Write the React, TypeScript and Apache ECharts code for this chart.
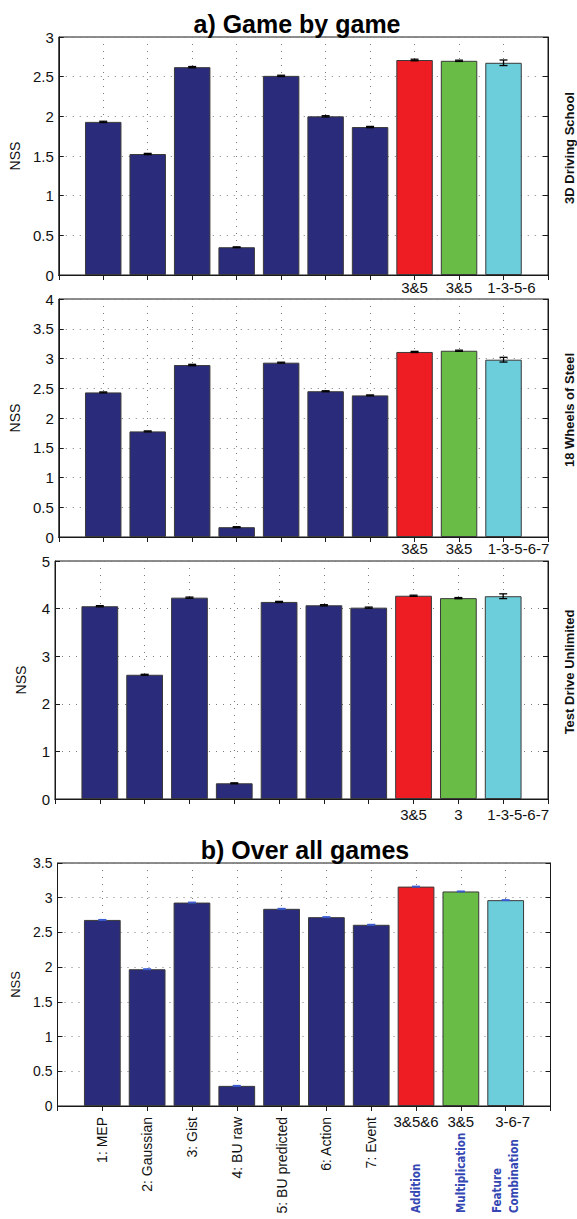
import React, { useEffect, useRef } from "react";
import * as echarts from "echarts";

// ---- data ----
const methods = [
  "1: MEP",
  "2: Gaussian",
  "3: Gist",
  "4: BU raw",
  "5: BU predicted",
  "6: Action",
  "7: Event",
  "Addition",
  "Multiplication",
  "Feature Combination",
];
const combinationKinds = ["Addition", "Multiplication", "Feature\nCombination"];
const games = ["3D Driving School", "18 Wheels of Steel", "Test Drive Unlimited"];

const nssDriving = [1.93, 1.525, 2.62, 0.35, 2.51, 2.0, 1.865, 2.71, 2.7, 2.675];
const errDriving = [0.008, 0.008, 0.008, 0.005, 0.008, 0.008, 0.008, 0.01, 0.008, 0.035];
const comboDriving = ["3&5", "3&5", "1-3-5-6"];

const nssWheels = [2.43, 1.775, 2.89, 0.165, 2.93, 2.45, 2.38, 3.11, 3.13, 2.98];
const errWheels = [0.008, 0.008, 0.012, 0.008, 0.008, 0.008, 0.008, 0.01, 0.01, 0.04];
const comboWheels = ["3&5", "3&5", "1-3-5-6-7"];

const nssTestDrive = [4.05, 2.61, 4.23, 0.33, 4.14, 4.07, 4.02, 4.27, 4.22, 4.26];
const errTestDrive = [0.012, 0.01, 0.012, 0.01, 0.012, 0.012, 0.012, 0.012, 0.012, 0.05];
const comboTestDrive = ["3&5", "3", "1-3-5-6-7"];

const nssAll = [2.68, 1.97, 2.93, 0.29, 2.84, 2.72, 2.61, 3.16, 3.09, 2.965];
const errAll = [0.005, 0.005, 0.005, 0.005, 0.005, 0.005, 0.005, 0.005, 0.005, 0.005];
const comboAll = ["3&5&6", "3&5", "3-6-7"];

const yMaxes = [3, 4, 5, 3.5];
const ySteps = [0.5, 0.5, 1, 0.5];

const barColors = [
  "#2a2b7b", "#2a2b7b", "#2a2b7b", "#2a2b7b", "#2a2b7b", "#2a2b7b", "#2a2b7b",
  "#ee1d24", "#69bc45", "#6ccddb",
];

// ---- layout ----
const PANEL_TOPS = [37, 299, 561, 863];
const PANEL_HEIGHTS = [238, 238, 238, 243];
const PANEL_LEFTS = [55, 55, 55, 57.5];
const PANEL_WIDTH = 493;
const LABEL_MARGINS = [5, 4, 8];
const LAST_LABEL_PAD = [16, 30, 30, 14];
const FONT = "'Liberation Sans', Arial, Helvetica, sans-serif";
const NARROW = "'Liberation Sans Narrow', 'Arial Narrow', 'DejaVu Sans Condensed', sans-serif";
const AXIS_COLOR = "#1a1a1a";
const GRID_DOT = { color: "#7a7a7a", type: [1, 6] as any, width: 1 };

const slots = ["", ...methods, " "];

function comboRich(pad: number) {
  return {
    n: { fontSize: 15, fontFamily: FONT, color: "#111" },
    s: { fontSize: 15, fontFamily: FONT, color: "#111", padding: [0, 0, 0, pad] },
  };
}

export default function App() {
  const ref = useRef<HTMLDivElement>(null);

  useEffect(() => {
    if (!ref.current) return;
    const chart = echarts.init(ref.current, null, { renderer: "svg" });

    const panelValues = [nssDriving, nssWheels, nssTestDrive, nssAll];
    const panelErrors = [errDriving, errWheels, errTestDrive, errAll];
    const panelCombos = [comboDriving, comboWheels, comboTestDrive];

    const comboFormatter = (combos: string[]) => (_v: string, i: number) => {
      if (i < 8 || i > 10) return "";
      return i === 10 ? `{s|${combos[i - 8]}}` : `{n|${combos[i - 8]}}`;
    };

    const grids: any[] = [];
    for (let p = 0; p < 4; p++) {
      grids.push({
        left: PANEL_LEFTS[p],
        top: PANEL_TOPS[p],
        width: PANEL_WIDTH,
        height: PANEL_HEIGHTS[p],
        show: true,
        borderColor: AXIS_COLOR,
        borderWidth: 1,
        backgroundColor: "transparent",
      });
    }
    for (let k = 0; k < 2; k++) {
      grids.push({
        left: PANEL_LEFTS[3],
        top: PANEL_TOPS[3],
        width: PANEL_WIDTH,
        height: PANEL_HEIGHTS[3],
        show: false,
      });
    }

    const xAxes: any[] = [];
    for (let p = 0; p < 4; p++) {
      const isLast = p === 3;
      xAxes.push({
        type: "category",
        gridIndex: p,
        position: "bottom",
        data: slots,
        boundaryGap: false,
        axisLine: { show: true, lineStyle: { color: AXIS_COLOR, width: 1 } },
        axisTick: { show: true, inside: true, length: 5, interval: 0, lineStyle: { color: AXIS_COLOR } },
        splitLine: { show: true, interval: 0, lineStyle: GRID_DOT },
        axisLabel: isLast
          ? {
              show: true,
              interval: 0,
              rotate: 90,
              margin: 11,
              fontSize: 14,
              fontFamily: FONT,
              color: "#111",
              formatter: (v: string, i: number) => (i >= 1 && i <= 7 ? v : ""),
            }
          : {
              show: true,
              interval: 0,
              margin: LABEL_MARGINS[p],
              fontSize: 15,
              fontFamily: FONT,
              color: "#111",
              formatter: comboFormatter(panelCombos[p]),
              rich: comboRich(LAST_LABEL_PAD[p]),
            },
      });
    }
    for (let p = 0; p < 4; p++) {
      xAxes.push({
        type: "category",
        gridIndex: p,
        position: "top",
        data: slots,
        boundaryGap: false,
        axisLine: { show: true, lineStyle: { color: AXIS_COLOR, width: 1 } },
        axisTick: { show: true, inside: true, length: 5, interval: 0, lineStyle: { color: AXIS_COLOR } },
        axisLabel: { show: false },
        splitLine: { show: false },
      });
    }
    xAxes.push({
      type: "category",
      gridIndex: 4,
      position: "bottom",
      data: slots,
      boundaryGap: false,
      axisLine: { show: false },
      axisTick: { show: false },
      splitLine: { show: false },
      axisLabel: {
        show: true,
        interval: 0,
        margin: 8,
        fontSize: 15,
        fontFamily: FONT,
        color: "#111",
        formatter: comboFormatter(comboAll),
        rich: comboRich(LAST_LABEL_PAD[3]),
      },
    });
    xAxes.push({
      type: "category",
      gridIndex: 5,
      position: "bottom",
      data: slots,
      boundaryGap: false,
      axisLine: { show: false },
      axisTick: { show: false },
      splitLine: { show: false },
      axisLabel: {
        show: true,
        interval: 0,
        rotate: 90,
        align: "left",
        verticalAlign: "middle",
        margin: 107,
        fontSize: 11.5,
        lineHeight: 17,
        fontWeight: "bold",
        fontFamily: NARROW,
        color: "#3447b3",
        formatter: (_v: string, i: number) => (i >= 8 && i <= 10 ? combinationKinds[i - 8] : ""),
      },
    });

    const yAxes: any[] = [];
    for (let p = 0; p < 4; p++) {
      yAxes.push({
        type: "value",
        gridIndex: p,
        position: "left",
        min: 0,
        max: yMaxes[p],
        interval: ySteps[p],
        name: "NSS",
        nameLocation: "middle",
        nameGap: p === 3 ? 29 : 27,
        nameTextStyle: { fontSize: p === 3 ? 13 : 14, fontFamily: FONT, color: "#111" },
        axisLine: { show: true, lineStyle: { color: AXIS_COLOR, width: 1 } },
        axisTick: { show: true, inside: true, length: 5, lineStyle: { color: AXIS_COLOR } },
        splitLine: { show: true, lineStyle: GRID_DOT },
        axisLabel: { fontSize: p === 3 ? 14 : 15, margin: 5, fontFamily: FONT, color: "#111" },
      });
    }
    for (let p = 0; p < 4; p++) {
      yAxes.push({
        type: "value",
        gridIndex: p,
        position: "right",
        min: 0,
        max: yMaxes[p],
        interval: ySteps[p],
        axisLine: { show: true, lineStyle: { color: AXIS_COLOR, width: 1 } },
        axisTick: { show: true, inside: true, length: 5, lineStyle: { color: AXIS_COLOR } },
        splitLine: { show: false },
        axisLabel: { show: false },
      });
    }
    yAxes.push({ type: "value", gridIndex: 4, show: false, min: 0, max: 1 });
    yAxes.push({ type: "value", gridIndex: 5, show: false, min: 0, max: 1 });

    const series: any[] = [];
    for (let p = 0; p < 4; p++) {
      const vals = panelValues[p];
      const errs = panelErrors[p];
      series.push({
        type: "bar",
        xAxisIndex: p,
        yAxisIndex: p,
        barWidth: "82%",
        itemStyle: { borderColor: "#3a3a3a", borderWidth: 1 },
        data: ["-", ...vals.map((v, i) => ({ value: v, itemStyle: { color: barColors[i] } })), "-"],
        z: 2,
      });
      const errColor = p === 3 ? "#3b5bd0" : "#000";
      series.push({
        type: "custom",
        xAxisIndex: p,
        yAxisIndex: p,
        z: 5,
        data: vals.map((v, i) => [i + 1, v, errs[i]]),
        renderItem: (_params: any, api: any) => {
          const x = api.value(0);
          const y = api.value(1);
          const e = api.value(2);
          const lo = api.coord([x, y - e]);
          const hi = api.coord([x, y + e]);
          const half = 4;
          const style = { stroke: errColor, lineWidth: 1.3 };
          return {
            type: "group",
            children: [
              { type: "line", shape: { x1: lo[0], y1: lo[1], x2: hi[0], y2: hi[1] }, style },
              { type: "line", shape: { x1: lo[0] - half, y1: lo[1], x2: lo[0] + half, y2: lo[1] }, style },
              { type: "line", shape: { x1: hi[0] - half, y1: hi[1], x2: hi[0] + half, y2: hi[1] }, style },
            ],
          };
        },
      });
    }

    const graphics: any[] = games.map((g, p) => ({
      type: "text",
      x: 569,
      y: PANEL_TOPS[p] + PANEL_HEIGHTS[p] / 2 - 8,
      rotation: Math.PI / 2,
      style: {
        text: g,
        align: "center",
        verticalAlign: "middle",
        fontSize: 13,
        fontWeight: "bold",
        fontFamily: FONT,
        fill: "#111",
      },
    }));

    chart.setOption({
      animation: false,
      backgroundColor: "#fff",
      title: [
        {
          text: "a) Game by game",
          left: 292,
          top: 6,
          textAlign: "center",
          textStyle: { fontSize: 25, fontWeight: "bold", fontFamily: FONT, color: "#000" },
        },
        {
          text: "b) Over all games",
          left: 300,
          top: 832,
          textAlign: "center",
          textStyle: { fontSize: 25, fontWeight: "bold", fontFamily: FONT, color: "#000" },
        },
      ],
      grid: grids,
      xAxis: xAxes,
      yAxis: yAxes,
      series,
      graphic: graphics,
    });

    return () => chart.dispose();
  }, []);

  return (
    <div
      ref={ref}
      style={{ position: "absolute", left: 0, top: 0, width: 577, height: 1219, background: "#fff" }}
    />
  );
}
